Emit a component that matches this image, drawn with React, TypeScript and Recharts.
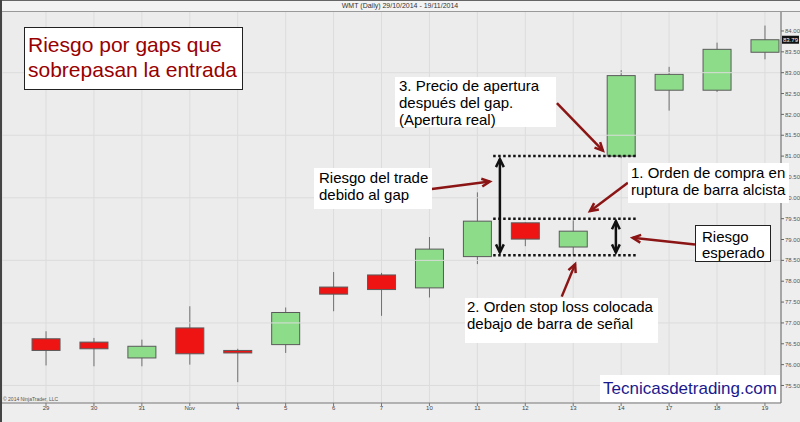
import React from "react";
import {
  ComposedChart,
  Bar,
  XAxis,
  YAxis,
  CartesianGrid,
  ReferenceLine,
} from "recharts";

// daily WMT candles, 29/10/2014 - 19/11/2014
const dayLabels = ["29", "30", "31", "Nov", "4", "5", "6", "7", "10", "11", "12", "13", "14", "17", "18", "19"];
const opens = [76.62, 76.54, 76.16, 76.88, 76.34, 76.48, 77.86, 78.15, 77.84, 78.59, 79.4, 78.82, 81.0, 82.58, 82.58, 83.49];
const highs = [76.8, 76.64, 76.6, 77.4, 76.38, 77.37, 78.22, 78.2, 79.06, 80.13, 79.41, 79.46, 83.06, 83.14, 83.72, 84.13];
const lows = [75.98, 75.96, 75.96, 76.0, 75.58, 76.28, 77.28, 77.17, 77.61, 78.41, 78.84, 78.62, 80.95, 82.09, 82.54, 83.32];
const closes = [76.34, 76.38, 76.44, 76.26, 76.28, 77.25, 77.69, 77.8, 78.77, 79.44, 79.01, 79.2, 82.93, 82.96, 83.56, 83.79];

const priceTicks = [75.5, 76, 76.5, 77, 77.5, 78, 78.5, 79, 79.5, 80, 80.5, 81, 81.5, 82, 82.5, 83, 83.5, 84];
const gridLevels = [75.5, 77, 78.5, 80, 81.5, 83];
const lastPrice = 83.79;

// annotation levels (price) drawn between bar "11" and bar "14"
const gapOpen = 81.0;
const entryLevel = 79.5;
const stopLevel = 78.62;
const levelSpan = [9.33, 12.33];

const candles = dayLabels.map((label, i) => ({
  i,
  label,
  open: opens[i],
  high: highs[i],
  low: lows[i],
  close: closes[i],
  range: [lows[i], highs[i]],
}));

const ARROW_RED = "#8b1515";

const Candle = (props: any) => {
  const { x, y, width, height, payload } = props;
  const { open, close, high, low } = payload;
  const cx = x + width / 2;
  const k = height / (high - low);
  const top = y + (high - Math.max(open, close)) * k;
  const bottom = y + (high - Math.min(open, close)) * k;
  const up = close >= open;
  return (
    <g>
      <line x1={cx} x2={cx} y1={y} y2={y + height} stroke="#707070" strokeWidth={1} />
      <rect
        x={x}
        y={top}
        width={width}
        height={Math.max(bottom - top, 2)}
        fill={up ? "#8ddc8a" : "#ee1414"}
        stroke="#5a5a5a"
        strokeWidth={1}
      />
    </g>
  );
};

function head(x: number, y: number, ang: number, color: string, w: number) {
  const len = 9;
  const a1 = ang + Math.PI - 0.45;
  const a2 = ang + Math.PI + 0.45;
  return (
    <path
      d={`M${x + len * Math.cos(a1)},${y + len * Math.sin(a1)} L${x},${y} L${x + len * Math.cos(a2)},${y + len * Math.sin(a2)}`}
      fill="none"
      stroke={color}
      strokeWidth={w}
      strokeLinejoin="miter"
    />
  );
}

const arrowShape = (color: string, both: boolean) => (p: any) => {
  const { x1, y1, x2, y2 } = p;
  const ang = Math.atan2(y2 - y1, x2 - x1);
  return (
    <g>
      <line x1={x1} y1={y1} x2={x2} y2={y2} stroke={color} strokeWidth={2.5} />
      {head(x2, y2, ang, color, 2.5)}
      {both && head(x1, y1, ang + Math.PI, color, 2.5)}
    </g>
  );
};

// arrows in (bar index, price)
const redArrows = [
  { from: [10.66, 82.27], to: [11.62, 81.13] },
  { from: [8.05, 80.21], to: [9.26, 80.39] },
  { from: [12.14, 80.36], to: [11.35, 79.68] },
  { from: [13.54, 78.88], to: [12.24, 79.04] },
  { from: [10.76, 77.63], to: [11.04, 78.41] },
];
const blackArrows = [
  { from: [9.47, 80.93], to: [9.47, 78.69] },
  { from: [11.89, 79.44], to: [11.89, 78.69] },
];

const font = "'Liberation Sans', Arial, sans-serif";

const box = (left: number, top: number, width: number, height: number, extra: any = {}) => ({
  position: "absolute" as const,
  left,
  top,
  width,
  height,
  background: "#ffffff",
  boxSizing: "border-box" as const,
  fontFamily: font,
  fontSize: 15,
  lineHeight: "17px",
  color: "#000",
  whiteSpace: "nowrap" as const,
  ...extra,
});

export default function App() {
  return (
    <div
      style={{
        position: "absolute",
        left: 0,
        top: 0,
        width: 800,
        height: 422,
        background: "#eeeeee",
        overflow: "hidden",
        fontFamily: font,
      }}
    >
      <ComposedChart
        width={800}
        height={422}
        data={candles}
        margin={{ top: 12, right: 0, bottom: 0, left: 2 }}
      >
        <CartesianGrid horizontal={false} stroke="#dcdcdc" fill="#ececec" />
        {gridLevels.map((v) => (
          <ReferenceLine key={v} y={v} stroke="#dcdcdc" />
        ))}
        <XAxis
          dataKey="i"
          type="number"
          domain={[-0.918, 15.335]}
          ticks={candles.map((c) => c.i)}
          interval={0}
          tickFormatter={(v: number) => dayLabels[v] ?? ""}
          tick={{ fontSize: 6, fill: "#444", fontFamily: font }}
          tickSize={3}
          tickMargin={0}
          height={19}
          stroke="#777"
        />
        <YAxis
          orientation="right"
          type="number"
          domain={[75.08, 84.455]}
          ticks={priceTicks}
          interval={0}
          tickFormatter={(v: number) => v.toFixed(2)}
          tick={{ fontSize: 6, fill: "#555", fontFamily: font }}
          tickSize={3}
          tickMargin={1}
          width={19}
          stroke="#666"
        />
        <Bar
          dataKey="range"
          barSize={28}
          shape={Candle}
          isAnimationActive={false}
        />
        {[gapOpen, entryLevel, stopLevel].map((v) => (
          <ReferenceLine
            key={"lvl" + v}
            segment={[
              { x: levelSpan[0], y: v },
              { x: levelSpan[1], y: v },
            ]}
            stroke="#111"
            strokeWidth={2.5}
            strokeDasharray="2.5 2.5"
          />
        ))}
        {blackArrows.map((a, k) => (
          <ReferenceLine
            key={"ba" + k}
            segment={[
              { x: a.from[0], y: a.from[1] },
              { x: a.to[0], y: a.to[1] },
            ]}
            shape={arrowShape("#111", true)}
          />
        ))}
        {redArrows.map((a, k) => (
          <ReferenceLine
            key={"ra" + k}
            segment={[
              { x: a.from[0], y: a.from[1] },
              { x: a.to[0], y: a.to[1] },
            ]}
            shape={arrowShape(ARROW_RED, false)}
          />
        ))}
        <ReferenceLine
          y={lastPrice}
          shape={(p: any) => {
            const right = Math.max(p.x1, p.x2);
            return (
              <g>
                <rect x={right + 1} y={p.y1 - 4} width={17} height={8} fill="#111" />
                <text
                  x={right + 9.5}
                  y={p.y1 + 2}
                  fontSize={6}
                  fill="#fff"
                  textAnchor="middle"
                  fontFamily={font}
                >
                  {lastPrice.toFixed(2)}
                </text>
              </g>
            );
          }}
        />
        <text x={3} y={401} fontSize={5} fill="#555" fontFamily={font}>
          © 2014 NinjaTrader, LLC
        </text>
      </ComposedChart>

      {/* header bar and frame */}
      <div
        style={{
          position: "absolute",
          left: 0,
          top: 0,
          width: 800,
          height: 12,
          background: "#f3f3f3",
          borderTop: "1px solid #666",
          borderBottom: "1px solid #999",
          boxSizing: "border-box",
          fontFamily: font,
          fontSize: 7,
          lineHeight: "10px",
          textAlign: "center",
          color: "#333",
        }}
      >
        WMT (Daily) 29/10/2014 - 19/11/2014
      </div>
      <div style={{ position: "absolute", left: 0, top: 0, width: 2, height: 422, background: "#444" }} />

      <div
        style={box(24, 27, 219, 63, {
          border: "1.5px solid #222",
          fontSize: 21,
          lineHeight: "25px",
          color: "#990000",
          padding: "4px 0 0 3px",
        })}
      >
        Riesgo por gaps que
        <br />
        sobrepasan la entrada
      </div>

      <div style={box(395, 77, 161, 50, { padding: "0 0 0 4px" })}>
        3. Precio de apertura
        <br />
        después del gap.
        <br />
        (Apertura real)
      </div>

      <div style={box(314, 168, 118, 41, { padding: "1px 0 0 5px" })}>
        Riesgo del trade
        <br />
        debido al gap
      </div>

      <div style={box(628, 163, 161, 40, { padding: "1px 0 0 3px" })}>
        1. Orden de compra en
        <br />
        ruptura de barra alcista
      </div>

      <div style={box(695, 225, 76, 37, { border: "1.5px solid #222", padding: "3px 0 0 6px", lineHeight: "16px" })}>
        Riesgo
        <br />
        esperado
      </div>

      <div style={box(465, 298, 193, 45, { padding: "0 0 0 2px" })}>
        2. Orden stop loss colocada
        <br />
        debajo de barra de señal
      </div>

      <div
        style={box(600, 375, 180, 27, {
          fontSize: 17,
          lineHeight: "24px",
          color: "#1a1a8e",
          padding: "2px 0 0 3px",
        })}
      >
        Tecnicasdetrading.com
      </div>
    </div>
  );
}
